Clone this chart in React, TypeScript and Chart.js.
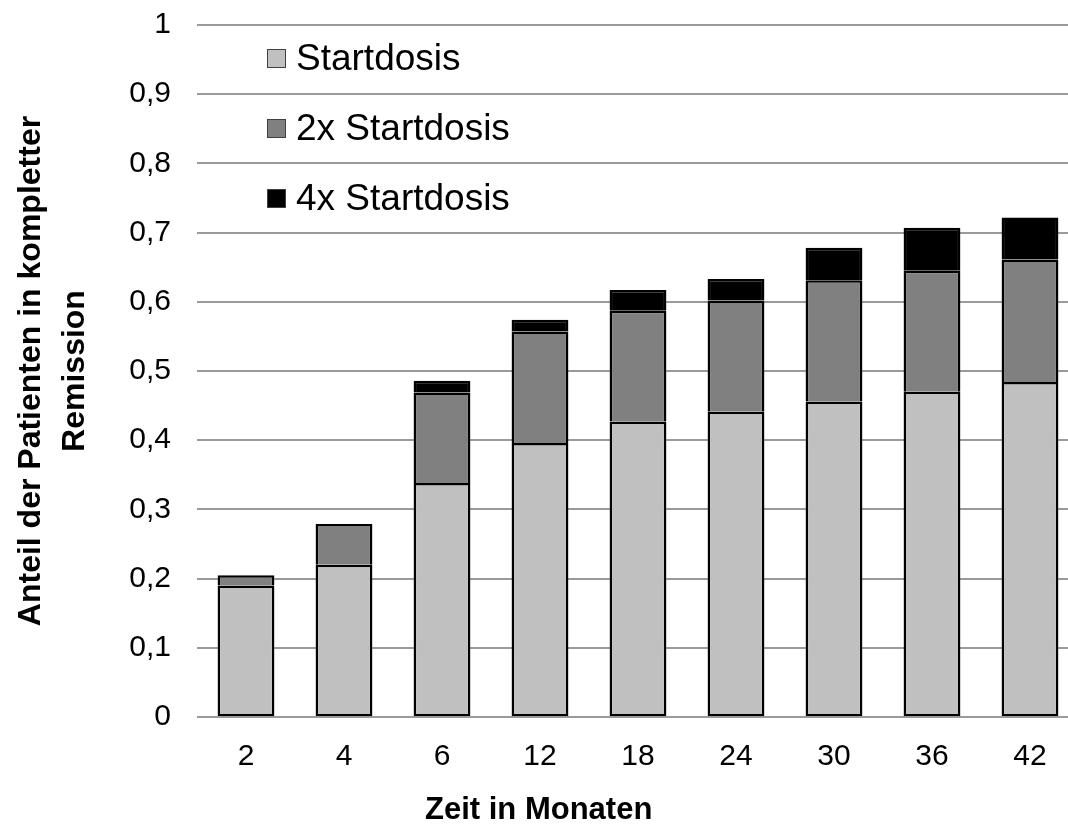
import React, { useEffect, useRef } from "react";
import { Chart, registerables } from "chart.js";

Chart.register(...registerables);

const categories = ["2", "4", "6", "12", "18", "24", "30", "36", "42"];
const startdosis = [0.19, 0.22, 0.338, 0.396, 0.427, 0.441, 0.456, 0.47, 0.484];
const doppelteDosis = [0.015, 0.059, 0.131, 0.161, 0.16, 0.161, 0.175, 0.175, 0.177];
const vierfacheDosis = [null, null, 0.017, 0.017, 0.03, 0.031, 0.047, 0.062, 0.061];
const seriesNames = ["Startdosis", "2x Startdosis", "4x Startdosis"];
const seriesColors = ["#c0c0c0", "#808080", "#000000"];
const yAxisTitle = ["Anteil der Patienten in kompletter", "Remission"];
const xAxisTitle = "Zeit in Monaten";

const FONT = "'Liberation Sans', Arial, sans-serif";

export default function App() {
  const canvasRef = useRef<HTMLCanvasElement | null>(null);

  useEffect(() => {
    document.body.style.margin = "0";
    document.body.style.overflow = "hidden";
    const canvas = canvasRef.current;
    if (!canvas) return;
    const seriesData = [startdosis, doppelteDosis, vierfacheDosis];
    const chart = new Chart(canvas, {
      type: "bar",
      data: {
        labels: categories,
        datasets: seriesData.map((d, i) => ({
          label: seriesNames[i],
          data: d as any,
          backgroundColor: seriesColors[i],
          borderColor: "#000000",
          borderWidth: { top: 2.5, left: 2.5, right: 2.5, bottom: i === 0 ? 2 : 0 },
          borderSkipped: false,
          barPercentage: 0.58,
          categoryPercentage: 1,
        })),
      },
      options: {
        responsive: false,
        maintainAspectRatio: false,
        animation: false,
        layout: { padding: { top: 25, right: 0, left: 0, bottom: 0 } },
        plugins: {
          legend: { display: false },
          tooltip: { enabled: false },
        },
        scales: {
          x: {
            stacked: true,
            grid: { display: false },
            border: { display: false },
            ticks: {
              color: "#000000",
              font: { family: FONT, size: 30 },
              padding: 14,
              maxRotation: 0,
            },
            afterFit: (scale: any) => {
              scale.height = 109;
            },
          },
          y: {
            stacked: true,
            min: 0,
            max: 1,
            grid: { color: "#9a9a9a", lineWidth: 2, drawTicks: false },
            border: { display: false },
            ticks: {
              stepSize: 0.1,
              color: "#000000",
              font: { family: FONT, size: 30 },
              padding: 26,
              callback: (v: any) => String(Math.round(Number(v) * 10) / 10).replace(".", ","),
            },
            title: {
              display: true,
              text: yAxisTitle,
              color: "#000000",
              font: { family: FONT, size: 32, weight: "bold", lineHeight: 1.35 },
              padding: { top: 10, bottom: 0 },
            },
            afterFit: (scale: any) => {
              scale.width = 197;
              scale.paddingTop = 0;
              scale.paddingBottom = 0;
            },
          },
        },
      },
    });
    return () => chart.destroy();
  }, []);

  const legendCenters = [58, 128, 198];

  return (
    <div style={{ position: "relative", width: 1068, height: 826, overflow: "hidden", background: "#ffffff" }}>
      <canvas ref={canvasRef} width={1079} height={826} style={{ display: "block" }} />
      {seriesNames.map((name, i) => (
        <div
          key={name}
          style={{
            position: "absolute",
            left: 267,
            top: legendCenters[i] - 22,
            height: 44,
            display: "flex",
            alignItems: "center",
            fontFamily: FONT,
            fontSize: 37,
            color: "#000000",
            whiteSpace: "nowrap",
          }}
        >
          <span
            style={{
              display: "inline-block",
              width: 17,
              height: 17,
              background: seriesColors[i],
              border: "1px solid #404040",
              marginRight: 10,
            }}
          />
          <span>{name}</span>
        </div>
      ))}
      <div
        style={{
          position: "absolute",
          left: 425,
          top: 793,
          fontFamily: FONT,
          fontWeight: "bold",
          fontSize: 31,
          lineHeight: "31px",
          color: "#000000",
          whiteSpace: "nowrap",
        }}
      >
        {xAxisTitle}
      </div>
    </div>
  );
}
